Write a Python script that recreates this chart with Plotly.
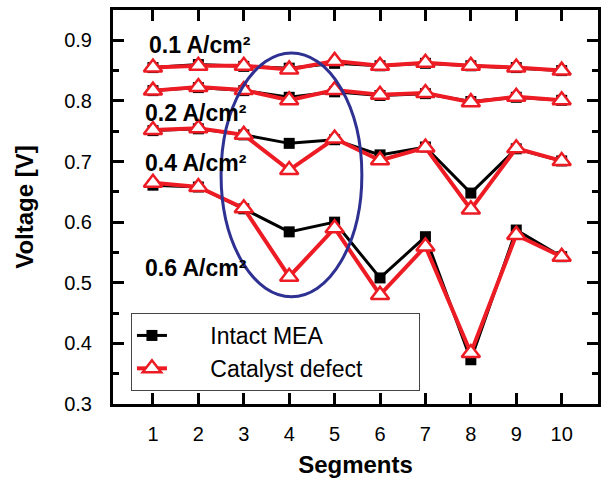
import plotly.graph_objects as go

segments = [1, 2, 3, 4, 5, 6, 7, 8, 9, 10]

# Intact MEA (black squares)
intact_01 = [0.855, 0.860, 0.857, 0.854, 0.862, 0.858, 0.862, 0.858, 0.855, 0.850]
intact_02 = [0.817, 0.822, 0.817, 0.806, 0.815, 0.809, 0.812, 0.799, 0.806, 0.801]
intact_04 = [0.751, 0.754, 0.744, 0.730, 0.736, 0.711, 0.724, 0.648, 0.721, 0.701]
intact_06 = [0.661, 0.658, 0.622, 0.584, 0.600, 0.508, 0.576, 0.373, 0.587, 0.543]

# Catalyst defect (red open triangles)
defect_01 = [0.855, 0.858, 0.858, 0.852, 0.866, 0.858, 0.863, 0.858, 0.855, 0.850]
defect_02 = [0.817, 0.823, 0.818, 0.801, 0.818, 0.810, 0.813, 0.798, 0.807, 0.801]
defect_04 = [0.752, 0.755, 0.744, 0.686, 0.738, 0.702, 0.723, 0.621, 0.722, 0.701]
defect_06 = [0.665, 0.658, 0.623, 0.510, 0.590, 0.480, 0.560, 0.384, 0.579, 0.543]

current_labels = ["0.1 A/cm²", "0.2 A/cm²", "0.4 A/cm²", "0.6 A/cm²"]
label_x = [0.86, 0.77, 0.77, 0.77]
label_y = [0.892, 0.780, 0.698, 0.524]

ellipse_box = [2.5, 0.477, 5.6, 0.879]  # x0, y0, x1, y1

FONT = "Liberation Sans, Arial, sans-serif"
RED = "#ED1C24"
NB = "\u00a0"

fig = go.Figure()

intact = [intact_01, intact_02, intact_04, intact_06]
defect = [defect_01, defect_02, defect_04, defect_06]

for i, ys in enumerate(intact):
    fig.add_trace(go.Scatter(
        x=segments, y=ys, mode="lines+markers", name=NB * 6 + "Intact MEA",
        legendgroup="intact", showlegend=(i == 0),
        line=dict(color="black", width=3),
        marker=dict(symbol="square", size=11, color="black"),
    ))
for i, ys in enumerate(defect):
    fig.add_trace(go.Scatter(
        x=segments, y=ys, mode="lines+markers", name=NB * 6 + "Catalyst defect" + NB * 8,
        legendgroup="defect", showlegend=(i == 0),
        line=dict(color=RED, width=4),
        marker=dict(symbol="triangle-up", size=16, color="white",
                    line=dict(color=RED, width=2.5)),
    ))

for txt, lx, ly in zip(current_labels, label_x, label_y):
    fig.add_annotation(x=lx, y=ly, text=txt, showarrow=False,
                       xanchor="left", yanchor="middle",
                       font=dict(family=FONT, size=23, color="black", weight="bold"))

fig.add_shape(type="circle", xref="x", yref="y",
              x0=ellipse_box[0], y0=ellipse_box[1], x1=ellipse_box[2], y1=ellipse_box[3],
              line=dict(color="#2E3192", width=3))

fig.update_xaxes(
    range=[0.12, 10.8], tickmode="array", tickvals=segments,
    ticktext=[str(s) for s in segments],
    ticks="inside", ticklen=11, tickwidth=3, tickcolor="black",
    showline=True, linewidth=3, linecolor="black", mirror="allticks",
    showgrid=False, zeroline=False, automargin=False,
    tickfont=dict(family=FONT, size=20, color="black"),
    ticklabelstandoff=10,
    title=dict(text="<b>Segments</b>", font=dict(family=FONT, size=24, color="black"), standoff=14),
)
fig.update_yaxes(
    range=[0.3, 0.95], tickmode="linear", tick0=0.3, dtick=0.1, tickformat=".1f",
    ticks="inside", ticklen=11, tickwidth=3, tickcolor="black",
    minor=dict(ticks="inside", ticklen=6, tickwidth=3, tickcolor="black", dtick=0.05, tick0=0.3),
    showline=True, linewidth=3, linecolor="black", mirror="allticks",
    showgrid=False, zeroline=False, automargin=False,
    tickfont=dict(family=FONT, size=20, color="black"),
    ticklabelstandoff=14,
    title=dict(text="<b>Voltage [V]</b>", font=dict(family=FONT, size=24, color="black"), standoff=24),
)

fig.update_layout(
    width=603, height=478,
    margin=dict(l=113, r=5, t=10, b=74),
    paper_bgcolor="white", plot_bgcolor="white",
    showlegend=True,
    legend=dict(x=0.037, y=0.231, xanchor="left", yanchor="top",
                bgcolor="white", bordercolor="#444", borderwidth=1,
                font=dict(family=FONT, size=23, color="black"),
                tracegroupgap=0),
)

fig.write_html("out.html", config={"displayModeBar": False},
               post_script="document.body.style.margin='0';")
